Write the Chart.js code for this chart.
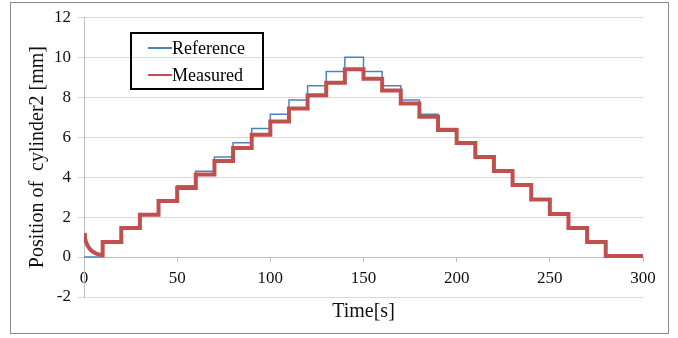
<!DOCTYPE html>
<html>
<head>
<meta charset="utf-8">
<script src="https://cdn.jsdelivr.net/npm/chart.js@4.4.0/dist/chart.umd.min.js"></script>
<style>
  html, body { margin: 0; padding: 0; background: #fff; }
</style>
</head>
<body>
<canvas id="myChart" width="678" height="338"></canvas>
<script>
// reference: level that starts at each time
var refTimes = [0, 10, 20, 30, 40, 50, 60, 70, 80, 90, 100, 110, 120, 130, 140,
                150, 160, 170, 180, 190, 200, 210, 220, 230, 240, 250, 260, 270, 280, 300];
var refLevels = [0, 0.714, 1.429, 2.143, 2.857, 3.571, 4.286, 5, 5.714, 6.429, 7.143, 7.857, 8.571, 9.286, 10,
                 9.286, 8.571, 7.857, 7.143, 6.429, 5.714, 5, 4.286, 3.571, 2.857, 2.143, 1.429, 0.714, 0, 0];

// measured: start-up decay, then steps
var decayTimes = [0, 0.5, 1, 2, 3, 4, 5, 6, 7, 8, 9, 10];
var decayValues = [1.2, 0.95, 0.78, 0.55, 0.42, 0.32, 0.25, 0.2, 0.16, 0.13, 0.11, 0.1];
var measTimes = [10, 20, 30, 40, 50, 60, 70, 80, 90, 100, 110, 120, 130, 140,
                 150, 160, 170, 180, 190, 200, 210, 220, 230, 240, 250, 260, 270, 280];
var measLevels = [0.75, 1.45, 2.12, 2.8, 3.46, 4.13, 4.8, 5.45, 6.12, 6.78, 7.43, 8.1, 8.72, 9.4,
                  8.92, 8.33, 7.68, 7.02, 6.35, 5.7, 5.0, 4.3, 3.6, 2.88, 2.15, 1.45, 0.75, 0.05];
var endTime = 300;

var xTicks = [0, 50, 100, 150, 200, 250, 300];
var yTicks = [-2, 0, 2, 4, 6, 8, 10, 12];

var refData = refTimes.map(function(t, i) { return {x: t, y: refLevels[i]}; });

var measData = decayTimes.map(function(t, i) { return {x: t, y: decayValues[i]}; });
var prev = decayValues[decayValues.length - 1];
measTimes.forEach(function(t, i) {
  measData.push({x: t, y: prev});
  measData.push({x: t, y: measLevels[i]});
  prev = measLevels[i];
});
measData.push({x: endTime, y: prev});

var serif = "'Liberation Serif', 'Times New Roman', serif";

var framePlugin = {
  id: 'frame',
  beforeDraw: function(chart) {
    var c = chart.ctx;
    c.save();
    c.strokeStyle = '#8c8c8c';
    c.lineWidth = 1;
    c.strokeRect(10.5, 2.5, 658, 331);
    c.restore();
  },
  afterDraw: function(chart) {
    var c = chart.ctx;
    c.save();
    c.strokeStyle = '#000';
    c.lineWidth = 2;
    c.strokeRect(131, 33, 132, 56);
    c.font = '18px ' + serif;
    c.textBaseline = 'middle';
    c.fillStyle = '#000';
    var items = [chart.data.datasets[1], chart.data.datasets[0]];
    items.forEach(function(ds, i) {
      var y = 48 + i * 27;
      c.strokeStyle = ds.borderColor;
      c.lineWidth = 2;
      c.beginPath();
      c.moveTo(148, y);
      c.lineTo(172, y);
      c.stroke();
      c.fillText(ds.label, 172, y + 1);
    });
    c.restore();
  }
};

var ctx = document.getElementById('myChart');
var myChart = new Chart(ctx, {
  type: 'scatter',
  data: {
    datasets: [{
      label: 'Measured',
      data: measData,
      showLine: true,
      borderColor: 'rgb(192, 80, 77)',
      borderWidth: 4,
      pointRadius: 0,
      xAxisID: 'x',
      yAxisID: 'y'
    }, {
      label: 'Reference',
      data: refData,
      showLine: true,
      stepped: true,
      borderColor: 'rgb(79, 129, 189)',
      borderWidth: 1.5,
      pointRadius: 0,
      xAxisID: 'x',
      yAxisID: 'y'
    }]
  },
  options: {
    responsive: false,
    animation: false,
    layout: { padding: { left: 0, right: 35, top: 17, bottom: 0 } },
    plugins: { legend: { display: false }, tooltip: { enabled: false } },
    scales: {
      x: {
        type: 'linear',
        position: { y: 0 },
        min: 0, max: 300,
        afterBuildTicks: function(s) { s.ticks = xTicks.map(function(v) { return {value: v}; }); },
        afterFit: function(s) { s.height = 0; },
        grid: { drawOnChartArea: false, color: '#bfbfbf', tickLength: 4 },
        border: { color: '#bfbfbf' },
        ticks: { padding: 7, color: '#111', font: { family: serif, size: 17 }, maxRotation: 0 }
      },
      xt: {
        type: 'linear',
        position: 'bottom',
        min: 0, max: 300,
        afterFit: function(s) { s.height = 41; },
        grid: { display: false },
        border: { display: false },
        ticks: { display: false },
        title: { display: true, text: 'Time[s]', color: '#111',
                 font: { family: serif, size: 20 }, padding: { top: 0, bottom: 14 } }
      },
      y: {
        min: -2, max: 12,
        afterBuildTicks: function(s) { s.ticks = yTicks.map(function(v) { return {value: v}; }); },
        afterFit: function(s) { s.width = 84; },
        grid: { color: '#d9d9d9', tickLength: 6 },
        border: { color: '#bfbfbf' },
        ticks: { padding: 7, color: '#111', font: { family: serif, size: 17 } },
        title: { display: true, text: 'Position of  cylinder2 [mm]', color: '#111',
                 font: { family: serif, size: 20 }, padding: { top: 26, bottom: 0 } }
      }
    }
  },
  plugins: [framePlugin]
});
</script>
</body>
</html>
